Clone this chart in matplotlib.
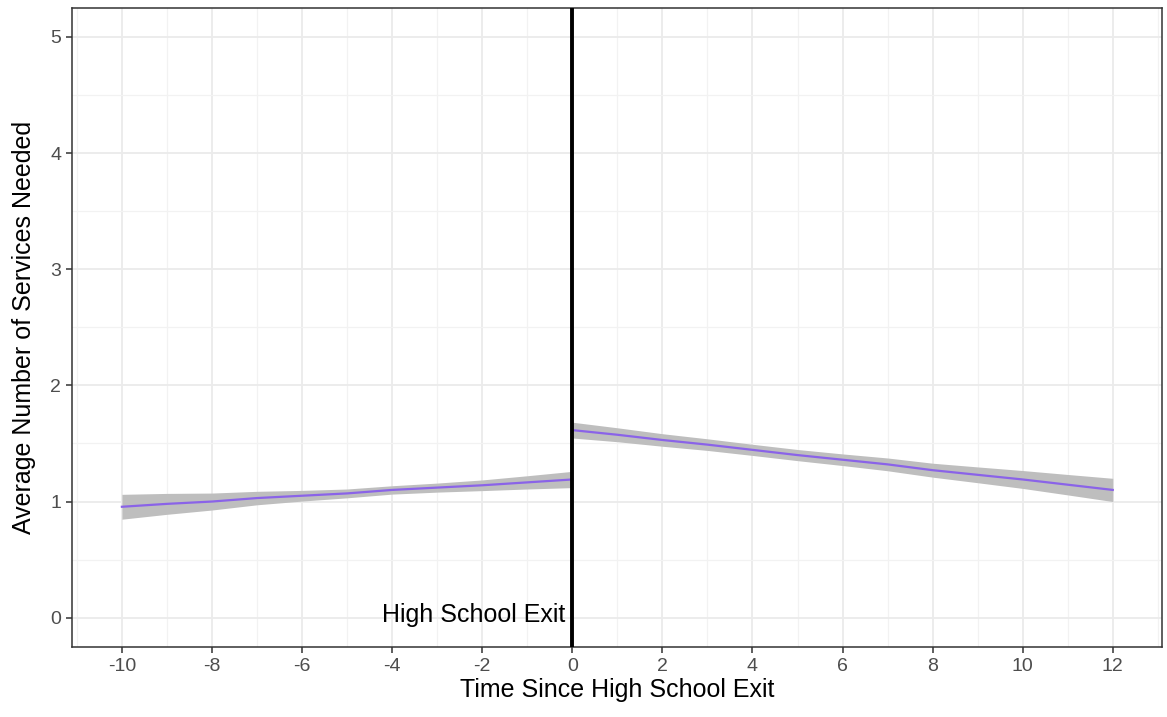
import numpy as np
import matplotlib.pyplot as plt
from matplotlib.ticker import MultipleLocator, FuncFormatter

plt.rcParams['font.family'] = ['Liberation Sans', 'DejaVu Sans']
plt.rcParams['axes.unicode_minus'] = False

# before high school exit
x_pre = [-10, -9, -8, -7, -6, -5, -4, -3, -2, -1, 0]
fit_pre = [0.955, 0.98, 1.00, 1.03, 1.05, 1.07, 1.10, 1.12, 1.14, 1.165, 1.19]
lo_pre = [0.848, 0.89, 0.927, 0.972, 1.004, 1.032, 1.064, 1.081, 1.094, 1.108, 1.12]
hi_pre = [1.062, 1.07, 1.073, 1.088, 1.096, 1.108, 1.136, 1.159, 1.186, 1.222, 1.26]

# after high school exit
x_post = [0, 1, 2, 3, 4, 5, 6, 7, 8, 9, 10, 11, 12]
fit_post = [1.615, 1.575, 1.53, 1.49, 1.445, 1.40, 1.36, 1.32, 1.27, 1.23, 1.19, 1.145, 1.10]
lo_post = [1.547, 1.515, 1.476, 1.44, 1.397, 1.352, 1.31, 1.265, 1.21, 1.162, 1.113, 1.057, 1.00]
hi_post = [1.683, 1.635, 1.584, 1.54, 1.493, 1.448, 1.41, 1.375, 1.33, 1.298, 1.267, 1.233, 1.20]

fit_col = '#8A63E8'
band_col = '#BEBEBE'

fig, ax = plt.subplots(figsize=(11.67, 7.17), dpi=100)
fig.subplots_adjust(left=0.062, right=0.996, top=0.989, bottom=0.098)

for xs, f, lo, hi in [(x_pre, fit_pre, lo_pre, hi_pre), (x_post, fit_post, lo_post, hi_post)]:
    ax.fill_between(xs, lo, hi, color=band_col, lw=0, zorder=2)
    ax.plot(xs, f, color=fit_col, lw=1.6, zorder=3)

ax.axvline(0, color='black', lw=2.8, zorder=4)
ax.text(-0.15, 0.02, 'High School Exit', ha='right', va='center', fontsize=18, color='black', zorder=5)

ax.set_xlim(-11.1, 13.1)
ax.set_ylim(-0.25, 5.25)
ax.xaxis.set_major_locator(MultipleLocator(2))
ax.xaxis.set_minor_locator(MultipleLocator(1))
ax.yaxis.set_major_locator(MultipleLocator(1))
ax.yaxis.set_minor_locator(MultipleLocator(0.5))
ax.xaxis.set_major_formatter(FuncFormatter(lambda v, p: f'{v:g}'))
ax.yaxis.set_major_formatter(FuncFormatter(lambda v, p: f'{v:g}'))

ax.grid(which='major', color='#EBEBEB', lw=1.3, zorder=0)
ax.grid(which='minor', color='#F2F2F2', lw=0.9, zorder=0)
ax.set_axisbelow(True)

ax.tick_params(which='major', length=4, width=1.1, color='#333333', labelsize=14, labelcolor='#4D4D4D', pad=4)
ax.tick_params(which='minor', length=0)
for s in ax.spines.values():
    s.set_color('#333333')
    s.set_linewidth(1.1)

ax.set_xlabel('Time Since High School Exit', fontsize=18, color='black', labelpad=2)
ax.set_ylabel('Average Number of Services Needed', fontsize=18, color='black', labelpad=10)

fig.savefig('out.png')
